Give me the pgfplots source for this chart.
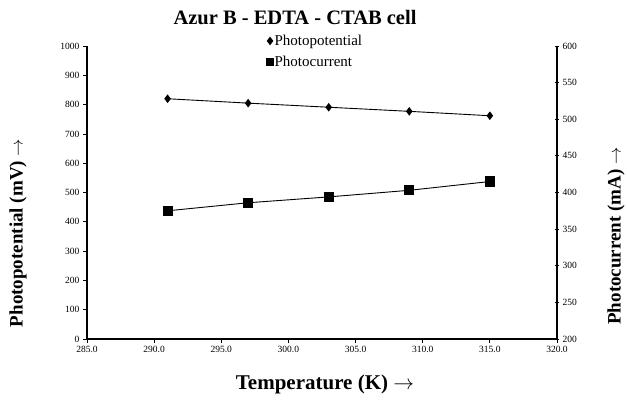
\documentclass[border=0pt]{standalone}
\usepackage{fontspec}
\setmainfont{Liberation Serif}
\usepackage{pgfplots}
\pgfplotsset{compat=1.18}
\begin{document}
\begin{tikzpicture}
\useasboundingbox (-87pt,-61pt) rectangle (540pt,339pt);
\pgfplotsset{every axis/.append style={
    scale only axis, width=470pt, height=293pt,
    xmin=285, xmax=320,
    axis line style={line width=1.1pt},
    major tick length=4pt,
    tick style={line width=0.8pt, black},
    tick label style={font=\fontsize{9.5}{10}\selectfont},
    /pgf/number format/assume math mode=true,
    /pgf/number format/1000 sep={},
}}
\begin{axis}[
    axis x line*=bottom, axis y line*=left,
    ymin=0, ymax=1000, ytick distance=100,
    xtick={285,290,...,320},
    xticklabel style={/pgf/number format/.cd, fixed, fixed zerofill, precision=1},
    tick align=outside,
    legend style={draw=none, fill=none, at={(0.375,1.052)}, anchor=north west,
        font=\fontsize{15}{17}\selectfont, row sep=5pt,
        /tikz/every odd column/.style={column sep=-1pt}},
    legend cell align=left,
]
\addplot[black, line width=0.9pt, mark=diamond*, mark size=3.6pt,
    legend image code/.code={\draw[mark=diamond*, mark size=3.6pt, black] plot coordinates {(0.3cm,0cm)};}] coordinates {
    (291,820) (297,805) (303,791) (309,777) (315,762)
};
\addlegendentry{Photopotential}
\addlegendimage{legend image code/.code={\draw[mark=square*, mark size=3.6pt, black] plot coordinates {(0.3cm,0cm)};}}
\addlegendentry{Photocurrent}
\end{axis}
\begin{axis}[
    axis x line=none, axis y line*=right,
    ymin=200, ymax=600, ytick distance=50,
    tick align=center,
]
\addplot[black, line width=0.9pt, mark=square*, mark size=4.6pt] coordinates {
    (291,375) (297,386) (303,394) (309,403) (315,415)
};
\end{axis}
\node[font=\bfseries\fontsize{20.5}{22}\selectfont] at (208pt,321pt) {Azur B - EDTA - CTAB cell};
\node[font=\bfseries\fontsize{21}{23}\selectfont] at (238pt,-45pt) {Temperature (K) $\rightarrow$};
\node[font=\bfseries\fontsize{19}{21}\selectfont, rotate=90] at (-69pt,106pt) {Photopotential (mV) $\rightarrow$};
\node[font=\bfseries\fontsize{19}{21}\selectfont, rotate=90] at (529pt,103pt) {Photocurrent (mA) $\rightarrow$};
\end{tikzpicture}
\end{document}
